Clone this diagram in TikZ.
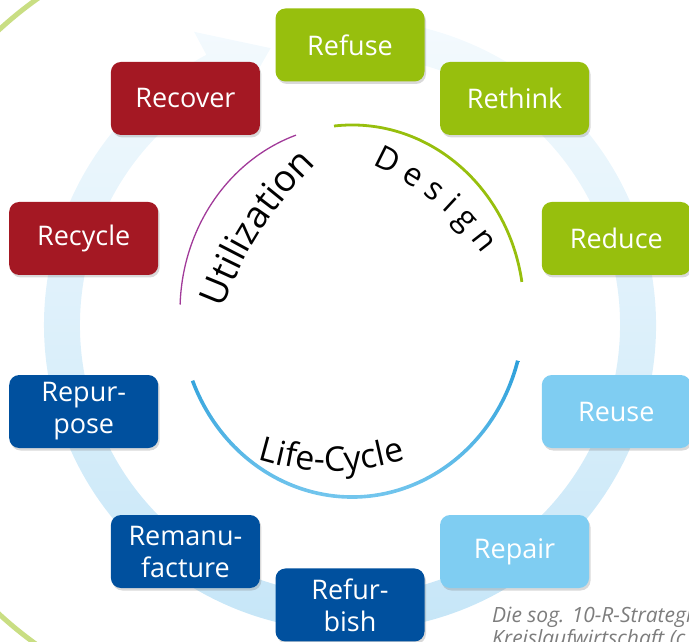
\documentclass[tikz,border=0pt]{standalone}
\usepackage{fontspec}
\setmainfont{Open Sans}
\usepackage{tikz}
\usetikzlibrary{positioning,calc,shadows,decorations.text}

\definecolor{rgreen}{RGB}{151,191,13}
\definecolor{rred}{RGB}{164,24,35}
\definecolor{rdblue}{RGB}{0,80,158}
\definecolor{rlblue}{RGB}{127,205,242}
\definecolor{ringtop}{RGB}{246,251,254}
\definecolor{ringbot}{RGB}{196,229,247}
\definecolor{outergreen}{RGB}{201,222,131}
\definecolor{utilpurple}{RGB}{161,58,153}
\definecolor{lcdark}{RGB}{44,159,218}
\definecolor{lclight}{RGB}{128,205,241}
\definecolor{notegray}{RGB}{125,125,125}

\begin{document}
\begin{tikzpicture}[x=1pt,y=1pt]

  \tikzset{
    rbox/.style={fill=#1, text=white, rounded corners=10pt,
      minimum width=149pt, minimum height=73pt, align=center, inner sep=2pt,
      font=\fontsize{27}{32}\selectfont,
      drop shadow={opacity=0.3,shadow xshift=1.5pt,shadow yshift=-2.5pt}},
    note/.style={anchor=base west, inner sep=0pt, text=notegray,
      font=\fontsize{21}{24}\selectfont\itshape},
  }

  \useasboundingbox (0,0) rectangle (689,642);
  \clip (0,0) rectangle (689,642);
  \coordinate (O) at (350,317);
  \coordinate (M) at (352,331);
  \coordinate (G) at (268,320);

  % big green arc, only the left corners show
  \draw[outergreen, line width=5pt] ($(G)+(115:397)$)
    arc[start angle=115, end angle=245, radius=397];

  % the cycle arrow behind the boxes
  \shade[top color=ringtop, bottom color=ringbot]
    ($(O)+(100:306)$) arc[start angle=100, end angle=-242, radius=306]
    -- ($(O)+(118:332)$) -- ($(O)+(106:288)$) -- ($(O)+(118:244)$)
    -- ($(O)+(118:270)$) arc[start angle=118, end angle=460, radius=270] -- cycle;

  % inner arcs
  \draw[utilpurple, line width=1.3pt] ($(M)+(178:172 and 186)$)
    arc[start angle=178, end angle=109, x radius=172, y radius=186];
  \draw[rgreen, line width=2.8pt] ($(M)+(96:172 and 186)$)
    arc[start angle=96, end angle=9, x radius=172, y radius=186];
  \shade[top color=lcdark, bottom color=lclight]
    ($(M)+(202:173.8 and 187.8)$) arc[start angle=202, end angle=344.5, x radius=173.8, y radius=187.8]
    -- ($(M)+(344.5:170.2 and 184.2)$) arc[start angle=344.5, end angle=202, x radius=170.2, y radius=184.2] -- cycle;

  % words along the arcs
  \coordinate (us) at (221,329);
  \coordinate (ue) at (320,482);
  \path[decorate, decoration={text along path, text align=center,
    text={|\fontsize{37}{37}\selectfont|Utilization}}] (us) to[bend left=12] (ue);
  \coordinate (ds) at (373,477);
  \coordinate (de) at (482,388);
  \path[decorate, decoration={text along path, text align=center,
    text={|\fontsize{32}{32}\selectfont|D e s i g n}}] (ds) to[bend left=14] (de);
  \coordinate (ls) at (253,184);
  \coordinate (le) at (410,184);
  \path[decorate, decoration={text along path, text align=center,
    text={|\fontsize{34}{34}\selectfont|Life-Cycle}}] (ls) to[bend right=17] (le);

  % the ten R boxes
  \node[rbox=rgreen] (refuse) at ($(O)+(90:280)$) {Refuse};
  \node[rbox=rgreen] (rethink) at ($(O)+(54:280)$) {Rethink};
  \node[rbox=rgreen] (reduce) at ($(O)+(18:280)$) {Reduce};
  \node[rbox=rlblue] (reuse) at ($(O)+(-18:280)$) {Reuse};
  \node[rbox=rlblue] (repair) at ($(O)+(-54:280)$) {Repair};
  \node[rbox=rdblue] (refurbish) at ($(O)+(-90:280)$) {Refur-\\bish};
  \node[rbox=rdblue] (remanufacture) at ($(O)+(-126:280)$) {Remanu-\\facture};
  \node[rbox=rdblue] (repurpose) at ($(O)+(-162:280)$) {Repur-\\pose};
  \node[rbox=rred] (recycle) at ($(O)+(162:280)$) {Recycle};
  \node[rbox=rred] (recover) at ($(O)+(126:280)$) {Recover};

  % caption, cut by the frame
  \node[note] (note1) at (492,19) {Die sog. 10-R-Strategie};
  \node[note] (note2) at (492,-4) {Kreislaufwirtschaft (c};

\end{tikzpicture}
\end{document}
